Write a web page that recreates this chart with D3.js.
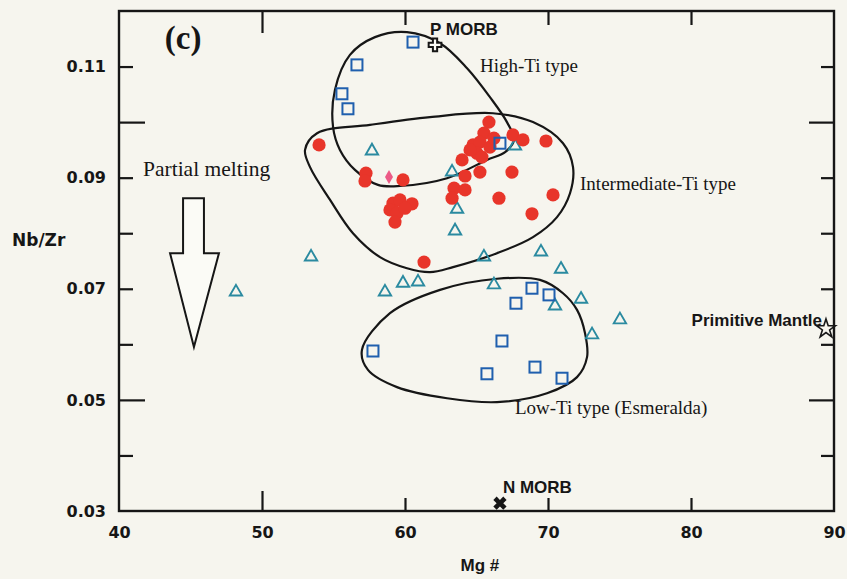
<!DOCTYPE html>
<html>
<head>
<meta charset="utf-8">
<script src="https://cdn.jsdelivr.net/npm/d3@7"></script>
<style>
  html, body { margin: 0; padding: 0; background: #f6f5ee; }
  svg { display: block; }
</style>
</head>
<body>
<div id="chart"></div>
<script>
// Mg# vs Nb/Zr values
const intermediateTi = [
  [53.99, 0.0959], [65.87, 0.1000], [65.52, 0.0980], [67.55, 0.0977], [68.25, 0.0968],
  [69.86, 0.0966], [64.76, 0.0959], [65.24, 0.0964], [65.03, 0.0944], [65.94, 0.0955],
  [65.38, 0.0937], [63.99, 0.0932], [65.24, 0.0910], [67.48, 0.0910], [64.20, 0.0903],
  [57.27, 0.0908], [57.20, 0.0894], [59.86, 0.0896], [63.43, 0.0881], [64.20, 0.0878],
  [63.29, 0.0863], [66.57, 0.0863], [70.35, 0.0869], [68.88, 0.0835], [59.16, 0.0854],
  [59.65, 0.0860], [60.49, 0.0853], [58.95, 0.0842], [59.44, 0.0836], [59.30, 0.0820],
  [61.33, 0.0748], [64.55, 0.0950], [66.22, 0.0971], [60.00, 0.0845]
];
const squaresHigh = [
  [60.56, 0.1144], [56.64, 0.1103], [55.59, 0.1051], [56.01, 0.1024], [66.64, 0.0962]
];
const squaresLow = [
  [57.76, 0.0588], [66.78, 0.0606], [65.73, 0.0547], [69.09, 0.0559], [70.98, 0.0539],
  [67.76, 0.0674], [68.88, 0.0701], [70.07, 0.0689]
];
const triangles = [
  [48.18, 0.0696], [53.43, 0.0759], [57.69, 0.0950], [63.29, 0.0912], [63.64, 0.0845],
  [63.50, 0.0806], [65.52, 0.0759], [69.51, 0.0768], [70.91, 0.0737], [67.69, 0.0959],
  [58.60, 0.0696], [59.86, 0.0712], [60.91, 0.0714], [66.22, 0.0709], [70.49, 0.0671],
  [72.31, 0.0683], [75.03, 0.0646], [73.08, 0.0619]
];
const diamonds = [[58.88, 0.0901]];

// field outlines
const highTiField = [
  [60.14, 0.1162], [62.45, 0.1142], [64.34, 0.1097], [65.94, 0.1045], [67.13, 0.1000],
  [67.62, 0.0968], [67.00, 0.0946], [65.73, 0.0932], [62.94, 0.0899], [59.65, 0.0885],
  [58.11, 0.0887], [56.50, 0.0914], [55.45, 0.0950], [54.97, 0.0991], [55.10, 0.1058],
  [56.15, 0.1121], [57.90, 0.1153]
];
const intermediateTiField = [
  [53.01, 0.0950], [53.85, 0.0980], [57.55, 0.0995], [61.75, 0.1009], [66.15, 0.1016],
  [68.95, 0.1000], [71.05, 0.0962], [71.75, 0.0919], [71.54, 0.0872], [70.63, 0.0829],
  [68.95, 0.0793], [66.43, 0.0764], [63.36, 0.0739], [61.75, 0.0730], [60.14, 0.0737],
  [58.25, 0.0757], [56.36, 0.0800], [54.76, 0.0860], [53.36, 0.0919]
];
const lowTiField = [
  [56.99, 0.0590], [58.95, 0.0656], [62.45, 0.0698], [66.43, 0.0718], [69.44, 0.0716],
  [71.05, 0.0692], [72.03, 0.0662], [72.59, 0.0620], [72.73, 0.0577], [72.03, 0.0541],
  [69.93, 0.0512], [66.43, 0.0496], [62.94, 0.0503], [59.44, 0.0523], [57.41, 0.0554]
];

// reference compositions
const pMorb = [62.1, 0.1139];
const nMorb = [66.64, 0.0314];
const primitiveMantle = [89.44, 0.0628];

// partial melting arrow outline
const meltArrow = [
  [44.48, 0.0863], [45.94, 0.0863], [45.94, 0.0764], [46.99, 0.0764],
  [45.24, 0.0595], [43.57, 0.0764], [44.48, 0.0764]
];

const xLabels = [40, 50, 60, 70, 80, 90];
const yLabels = [0.03, 0.05, 0.07, 0.09, 0.11];
const yShortTicks = [0.04, 0.06, 0.07, 0.08, 0.09, 0.11];
const yLongTicks = [0.05, 0.10];
const xShortTicks = [60, 70, 80];
const xLongTicks = [50];

const W = 847, H = 579;
const margin = { top: 11, right: 13, bottom: 68, left: 119 };
const width = W - margin.left - margin.right;
const height = H - margin.top - margin.bottom;

const svg = d3.select("#chart").append("svg")
  .attr("width", W)
  .attr("height", H);

svg.append("rect").attr("width", W).attr("height", H).attr("fill", "#f6f5ee");

const g = svg.append("g").attr("transform", `translate(${margin.left},${margin.top})`);

const x = d3.scaleLinear().domain([40, 90]).range([0, width]);
const y = d3.scaleLinear().domain([0.03, 0.12]).range([height, 0]);

const ink = "#161616";
const sansBold = "'DejaVu Sans', sans-serif";
const arial = "'Liberation Sans', Arial, sans-serif";
const serif = "'Liberation Serif', 'Times New Roman', serif";

// ticks (inward, mixed lengths)
function tickAxis(axis, pos, values, size) {
  const a = g.append("g").attr("transform", pos)
    .call(axis.tickValues(values).tickSize(size).tickFormat(""));
  a.select(".domain").remove();
  a.selectAll("line").attr("stroke", ink).attr("stroke-width", 2.2);
}
tickAxis(d3.axisRight(y), "translate(0,0)", yShortTicks, 14);
tickAxis(d3.axisRight(y), "translate(0,0)", yLongTicks, 26);
tickAxis(d3.axisLeft(y), `translate(${width},0)`, yShortTicks, 13);
tickAxis(d3.axisLeft(y), `translate(${width},0)`, yLongTicks, 25);
tickAxis(d3.axisTop(x), `translate(0,${height})`, xShortTicks, 13);
tickAxis(d3.axisTop(x), `translate(0,${height})`, xLongTicks, 20);
tickAxis(d3.axisBottom(x), "translate(0,0)", xShortTicks, 14);
tickAxis(d3.axisBottom(x), "translate(0,0)", xLongTicks, 22);

// tick labels
const yAx = g.append("g")
  .call(d3.axisLeft(y).tickValues(yLabels).tickSize(0).tickPadding(13).tickFormat(d3.format(".2f")));
yAx.select(".domain").remove();
yAx.selectAll("text").attr("font-family", sansBold).attr("font-weight", "bold")
  .attr("font-size", 16).attr("fill", ink);

const xAx = g.append("g").attr("transform", `translate(0,${height})`)
  .call(d3.axisBottom(x).tickValues(xLabels).tickSize(0).tickPadding(16));
xAx.select(".domain").remove();
xAx.selectAll("text").attr("font-family", sansBold).attr("font-weight", "bold")
  .attr("font-size", 16).attr("fill", ink);

// frame
g.append("rect").attr("width", width).attr("height", height)
  .attr("fill", "none").attr("stroke", ink).attr("stroke-width", 2.4);

// axis titles
svg.append("text").attr("x", 12).attr("y", 246)
  .attr("font-family", sansBold).attr("font-weight", "bold").attr("font-size", 17)
  .attr("fill", ink).text("Nb/Zr");
svg.append("text").attr("x", margin.left + x(65.24)).attr("y", 571)
  .attr("text-anchor", "middle")
  .attr("font-family", arial).attr("font-weight", "bold").attr("font-size", 17)
  .attr("fill", ink).text("Mg #");

// field outlines
const outline = d3.line()
  .x(d => x(d[0])).y(d => y(d[1]))
  .curve(d3.curveCatmullRomClosed.alpha(0.5));
[highTiField, intermediateTiField, lowTiField].forEach(f => {
  g.append("path").attr("d", outline(f))
    .attr("fill", "none").attr("stroke", ink).attr("stroke-width", 2.2);
});

// melting arrow
g.append("path")
  .attr("d", d3.line().x(d => x(d[0])).y(d => y(d[1]))(meltArrow) + "Z")
  .attr("fill", "#fbfbf6").attr("stroke", ink).attr("stroke-width", 2)
  .attr("stroke-linejoin", "miter");

// samples
g.selectAll(".tri").data(triangles).enter().append("path")
  .attr("class", "tri")
  .attr("d", d3.symbol().type(d3.symbolTriangle).size(66))
  .attr("transform", d => `translate(${x(d[0])},${y(d[1]) + 1})`)
  .attr("fill", "none").attr("stroke", "#2a8aa0").attr("stroke-width", 1.9);

g.selectAll(".dot").data(intermediateTi).enter().append("circle")
  .attr("class", "dot")
  .attr("cx", d => x(d[0])).attr("cy", d => y(d[1]))
  .attr("r", 6.6).attr("fill", "#e8352a");

g.selectAll(".sq").data(squaresHigh.concat(squaresLow)).enter().append("rect")
  .attr("class", "sq")
  .attr("x", d => x(d[0]) - 5.5).attr("y", d => y(d[1]) - 5.5)
  .attr("width", 11).attr("height", 11)
  .attr("fill", "none").attr("stroke", "#1f5fae").attr("stroke-width", 2);

g.selectAll(".dia").data(diamonds).enter().append("path")
  .attr("class", "dia")
  .attr("d", "M0,-7L4,0L0,7L-4,0Z")
  .attr("transform", d => `translate(${x(d[0])},${y(d[1])})`)
  .attr("fill", "#ec5a86");

// reference points
g.append("path")
  .attr("d", d3.symbol().type(d3.symbolCross).size(90)())
  .attr("transform", `translate(${x(pMorb[0])},${y(pMorb[1])})`)
  .attr("fill", "#fbfbf6").attr("stroke", ink).attr("stroke-width", 2);
g.append("path")
  .attr("d", d3.symbol().type(d3.symbolCross).size(110)())
  .attr("transform", `translate(${x(nMorb[0])},${y(nMorb[1])}) rotate(45)`)
  .attr("fill", ink);
g.append("path")
  .attr("d", d3.symbol().type(d3.symbolStar).size(110)())
  .attr("transform", `translate(${x(primitiveMantle[0])},${y(primitiveMantle[1])})`)
  .attr("fill", "none").attr("stroke", ink).attr("stroke-width", 1.6);

// annotations
const note = (px, py, txt, opts) => g.append("text")
  .attr("x", x(px)).attr("y", y(py))
  .attr("text-anchor", opts.anchor || "start")
  .attr("font-family", opts.family).attr("font-weight", opts.weight || "normal")
  .attr("font-size", opts.size).attr("fill", ink).text(txt);

note(61.75, 0.1157, "P MORB", { family: arial, weight: "bold", size: 17 });
note(66.85, 0.0333, "N MORB", { family: arial, weight: "bold", size: 17 });
note(89.16, 0.0633, "Primitive Mantle", { family: arial, weight: "bold", size: 17, anchor: "end" });
note(65.24, 0.1090, "High-Ti type", { family: serif, size: 19 });
note(72.24, 0.0878, "Intermediate-Ti type", { family: serif, size: 19 });
note(67.69, 0.0475, "Low-Ti type (Esmeralda)", { family: serif, size: 19 });
note(41.68, 0.0903, "Partial melting", { family: serif, size: 21.5 });
note(43.2, 0.1132, "(c)", { family: serif, weight: "bold", size: 33 });
</script>
</body>
</html>
